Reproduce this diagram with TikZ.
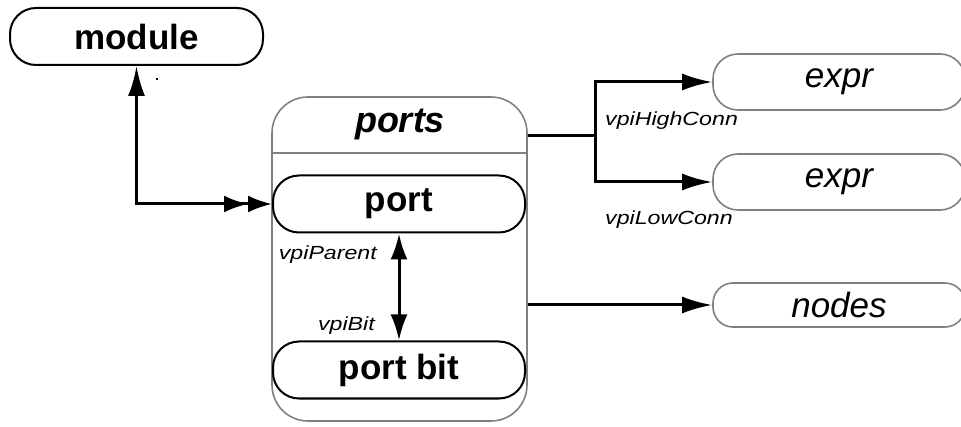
\documentclass[tikz,border=0pt]{standalone}
\usepackage{fontspec}
\setmainfont{Liberation Sans}
\newfontfamily\relfont{Liberation Sans}[FakeStretch=1.22]
\usetikzlibrary{
  arrows.meta,
  positioning,
  calc
}
\tikzset{
  objbox/.style={
    draw,
    line width=2pt,
    rounded corners=26pt,
    minimum width=253pt,
    minimum height=57pt,
    inner sep=0pt,
    font=\fontsize{35}{40}\selectfont\bfseries
  },
  refbox/.style={
    draw=black!50,
    line width=1.6pt,
    rounded corners=25pt,
    minimum width=252pt,
    minimum height=56pt,
    inner sep=0pt,
    font=\fontsize{35}{40}\selectfont\itshape
  },
  groupbox/.style={
    draw=black!50,
    line width=1.6pt,
    rounded corners=36pt,
    minimum width=255pt,
    minimum height=324pt,
    inner sep=0pt
  },
  rellabel/.style={font=\relfont\fontsize{19}{23}\selectfont\itshape,inner sep=0pt},
  relline/.style={line width=3pt},
  relarrow/.style={-{Latex[length=30pt,width=17pt]},line width=3pt},
  botharrow/.style={{Latex[length=26pt,width=17pt]}-{Latex[length=26pt,width=17pt]},line width=3pt},
  ownarrow/.style={{Latex[length=24pt,width=17pt]Latex[length=24pt,width=17pt]}-{Latex[length=30pt,width=17pt]},line width=3pt}
}
\begin{document}
\begin{tikzpicture}[x=1pt,y=-1pt]
  \useasboundingbox (0,0) rectangle (961,427);

  \node[groupbox] (ports) at (399.5,259) {};
  \node[font=\fontsize{36}{40}\selectfont\bfseries\itshape] (portstitle) at (400,124) {ports};
  \coordinate (divide) at (400,153);
  \draw[draw=black!50,line width=1.6pt] (ports.west |- divide) -- (ports.east |- divide);

  \node[objbox] (module) at (136.5,36.5) {module};
  \node[fill,inner sep=0pt,minimum size=2pt] (mark) at (157,79) {};
  \node[objbox,minimum width=252pt] (port) at (399,204) {port};
  \node[objbox,minimum width=252pt] (portbit) at (399,370) {port bit};

  \node[refbox] (highexpr) at (839,82) {expr};
  \node[refbox] (lowexpr) at (839,182) {expr};
  \node[refbox,minimum height=44pt,rounded corners=20pt] (nodes) at (839,305) {nodes};

  \draw[ownarrow] (port.west) -| (module.south);
  \draw[botharrow] (port.south) -- (portbit.north);

  \coordinate (split) at (595,136);
  \draw[relline] (ports.east |- split) -- (split);
  \draw[relarrow] (split) |- (highexpr.west);
  \draw[relarrow] (split) |- (lowexpr.west);
  \draw[relarrow] (ports.east |- nodes.west) -- (nodes.west);

  \node[rellabel,anchor=east] (parentlabel) at (377,255) {vpiParent};
  \node[rellabel,anchor=east] (bitlabel) at (375,326) {vpiBit};
  \node[rellabel,anchor=west] (highlabel) at (605,121) {vpiHighConn};
  \node[rellabel,anchor=west] (lowlabel) at (605,220) {vpiLowConn};
\end{tikzpicture}
\end{document}
